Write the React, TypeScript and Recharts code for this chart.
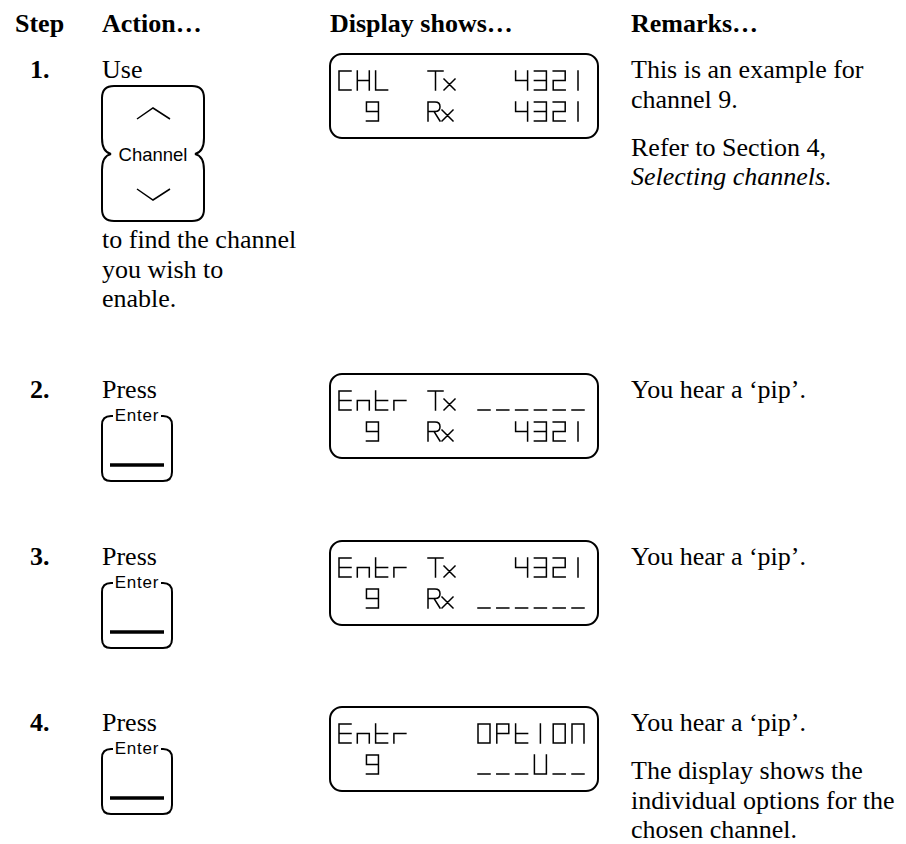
import React from 'react';
import { Surface, Layer, Text, Rectangle } from 'recharts';

// table content
const headers = ['Step', 'Action…', 'Display shows…', 'Remarks…'];
const stepLabels = ['1.', '2.', '3.', '4.'];
const actionVerbs = ['Use', 'Press', 'Press', 'Press'];
const actionKeys = ['Channel', 'Enter', 'Enter', 'Enter'];
const actionNotes = [['to find the channel', 'you wish to', 'enable.'], [], [], []];

// LCD lines: [left field, middle label, right field]
const displayLine1 = [
  ['CHL', 'Tx', '4321'],
  ['Entr', 'Tx', '______'],
  ['Entr', 'Tx', '4321'],
  ['Entr', '', 'OPtION'],
];
const displayLine2 = [
  ['9', 'Rx', '4321'],
  ['9', 'Rx', '4321'],
  ['9', 'Rx', '______'],
  ['9', '', '___U__'],
];

// paragraphs of lines, a leading "_" marks an italic line
const remarks = [
  [['This is an example for', 'channel 9.'], ['Refer to Section 4,', '_Selecting channels.']],
  [['You hear a ‘pip’.']],
  [['You hear a ‘pip’.']],
  [['You hear a ‘pip’.'], ['The display shows the', 'individual options for the', 'chosen channel.']],
];

const W = 906;
const H = 844;
const SERIF = '"Liberation Serif", "Times New Roman", serif';
const SANS = '"Liberation Sans", Arial, sans-serif';
const FS = 26;
const LINE = 29.5;
const PARA = 48;
const COL_X = [15, 102, 330, 631];
const STEP_X = 30;
const ROW_TOP = [54, 374, 541, 707];

// seven-segment LCD glyphs
const SEGMENTS: Record<string, string> = {
  C: 'adef',
  H: 'bcefg',
  L: 'def',
  E: 'adefg',
  n: 'ceg',
  N: 'abcef',
  t: 'defg',
  r: 'eg',
  O: 'abcdef',
  P: 'abefg',
  U: 'bcdef',
  _: 'd',
  '2': 'abdeg',
  '3': 'abcdg',
  '4': 'bcfg',
  '9': 'abcdfg',
};
const GW = 12;
const GH = 19;

function glyphPath(ch: string, x: number, y: number) {
  if (ch === '1' || ch === 'I') return `M${x + GW / 2},${y}V${y + GH}`;
  const s = SEGMENTS[ch];
  if (!s) return '';
  const m = y + GH / 2;
  const b = y + GH;
  const seg: Record<string, string> = {
    a: `M${x},${y}H${x + GW}`,
    b: `M${x + GW},${y}V${m}`,
    c: `M${x + GW},${m}V${b}`,
    d: `M${x},${b}H${x + GW}`,
    e: `M${x},${m}V${b}`,
    f: `M${x},${y}V${m}`,
    g: `M${x},${m}H${x + GW}`,
  };
  return s.split('').map((k) => seg[k]).join('');
}

function labelPath(label: string, x: number, y: number) {
  const b = y + GH;
  const m = y + GH / 2;
  let p = '';
  let cx = x;
  if (label[0] === 'T') {
    p += `M${x},${y}H${x + 15}M${x + 7.5},${y}V${b}`;
    cx = x + 16;
  } else if (label[0] === 'R') {
    p += `M${x},${b}V${y}H${x + 7}Q${x + 12},${y} ${x + 12},${y + 4.7}Q${x + 12},${m} ${x + 7},${m}H${x}`;
    p += `M${x + 6},${m}L${x + 12},${b}`;
    cx = x + 14;
  }
  if (label[1] === 'x') {
    p += `M${cx},${y + 8}L${cx + 11},${b}M${cx + 11},${y + 8}L${cx},${b}`;
  }
  return p;
}

function LcdLine({ parts, x, y, centerLeft }: { parts: string[]; x: number; y: number; centerLeft: boolean }) {
  const [left, mid, right] = parts;
  const lp = 18.3;
  const rp = 18.8;
  let d = '';
  const leftWidth = 3 * lp + GW;
  const lx = centerLeft ? x + 9 + (leftWidth - ((left.length - 1) * lp + GW)) / 2 : x + 9;
  left.split('').forEach((ch, i) => (d += glyphPath(ch, lx + i * lp, y)));
  if (mid) d += labelPath(mid, x + 98, y);
  const start = 6 - right.length;
  right.split('').forEach((ch, i) => (d += glyphPath(ch, x + 148 + (start + i) * rp, y)));
  return <path d={d} fill="none" stroke="#000" strokeWidth={1.5} strokeLinecap="square" />;
}

function Lcd({ idx, top }: { idx: number; top: number }) {
  const x = COL_X[2];
  return (
    <Layer>
      <Rectangle x={x} y={top} width={268} height={84} radius={12} fill="none" stroke="#000" strokeWidth={2} />
      <LcdLine parts={displayLine1[idx]} x={x} y={top + 17} centerLeft={false} />
      <LcdLine parts={displayLine2[idx]} x={x} y={top + 48} centerLeft />
    </Layer>
  );
}

function ChannelKey({ x, y, label }: { x: number; y: number; label: string }) {
  const w = 102;
  const h = 135;
  const r = 12;
  const my = y + 68;
  const d =
    `M${x + r},${y}H${x + w - r}Q${x + w},${y} ${x + w},${y + r}` +
    `V${my - 16}Q${x + w},${my - 2} ${x + w - 9},${my}Q${x + w},${my + 2} ${x + w},${my + 16}` +
    `V${y + h - r}Q${x + w},${y + h} ${x + w - r},${y + h}H${x + r}Q${x},${y + h} ${x},${y + h - r}` +
    `V${my + 16}Q${x},${my + 2} ${x + 9},${my}Q${x},${my - 2} ${x},${my - 16}V${y + r}Q${x},${y} ${x + r},${y}Z`;
  const cx = x + w / 2;
  return (
    <Layer>
      <path d={d} fill="none" stroke="#000" strokeWidth={2} />
      <path
        d={`M${cx - 16},${y + 33}L${cx},${y + 22}L${cx + 17},${y + 33}M${cx - 16},${y + 103}L${cx},${y + 114}L${cx + 17},${y + 103}`}
        fill="none"
        stroke="#000"
        strokeWidth={1.5}
      />
      <Text x={cx} y={my + 7} textAnchor="middle" fill="#000" style={{ fontFamily: SANS, fontSize: 18.5 }}>
        {label}
      </Text>
    </Layer>
  );
}

function EnterKey({ x, y, label }: { x: number; y: number; label: string }) {
  const w = 70;
  const h = 65;
  const r = 9;
  const d =
    `M${x + r + 2},${y}H${x + r}Q${x},${y} ${x},${y + r}V${y + h - r}Q${x},${y + h} ${x + r},${y + h}` +
    `H${x + w - r}Q${x + w},${y + h} ${x + w},${y + h - r}V${y + r}Q${x + w},${y} ${x + w - r},${y}H${x + w - r - 2}`;
  return (
    <Layer>
      <path d={d} fill="none" stroke="#000" strokeWidth={2} />
      <path d={`M${x + 8},${y + h - 16}H${x + w - 8}`} stroke="#000" strokeWidth={3.5} />
      <Text
        x={x + w / 2}
        y={y + 5}
        textAnchor="middle"
        fill="#000"
        style={{ fontFamily: SANS, fontSize: 17, letterSpacing: 0.8 }}
      >
        {label}
      </Text>
    </Layer>
  );
}

function Line({ x, y, text, bold }: { x: number; y: number; text: string; bold?: boolean }) {
  const italic = text.startsWith('_');
  return (
    <Text
      x={x}
      y={y}
      style={{
        fontFamily: SERIF,
        fontSize: FS,
        fontWeight: bold ? 'bold' : 'normal',
        fontStyle: italic ? 'italic' : 'normal',
      }}
      fill="#000"
    >
      {italic ? text.slice(1) : text}
    </Text>
  );
}

export default function App() {
  return (
    <div style={{ position: 'fixed', left: 0, top: 0, width: W, height: H, background: '#fff' }}>
      <Surface width={W} height={H}>
        {headers.map((h, i) => (
          <Line key={h} x={COL_X[i]} y={32} text={h} bold />
        ))}
        {stepLabels.map((step, i) => {
          const top = ROW_TOP[i];
          const base = top + 24;
          let ry = base;
          return (
            <Layer key={step}>
              <Line x={STEP_X} y={base} text={step} bold />
              <Line x={COL_X[1]} y={base} text={actionVerbs[i]} />
              {actionKeys[i] === 'Channel' ? (
                <ChannelKey x={COL_X[1]} y={top + 32} label={actionKeys[i]} />
              ) : (
                <EnterKey x={COL_X[1]} y={top + 42} label={actionKeys[i]} />
              )}
              {actionNotes[i].map((t, j) => (
                <Line key={t} x={COL_X[1]} y={top + 194 + j * LINE} text={t} />
              ))}
              <Lcd idx={i} top={top} />
              {remarks[i].map((para, p) => {
                if (p > 0) ry += PARA - LINE;
                return para.map((t, j) => {
                  const y = ry;
                  ry += LINE;
                  return <Line key={`${p}-${j}`} x={COL_X[3]} y={y} text={t} />;
                });
              })}
            </Layer>
          );
        })}
      </Surface>
    </div>
  );
}
